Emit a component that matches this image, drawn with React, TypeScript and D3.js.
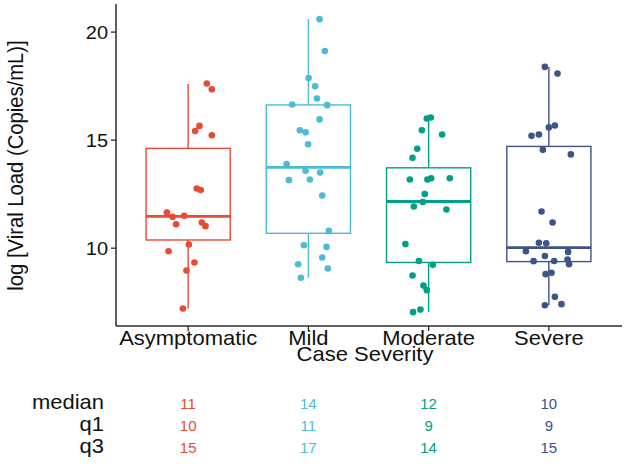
import React from "react";
import * as d3 from "d3";

const categories = ["Asymptomatic", "Mild", "Moderate", "Severe"];
const colors = ["#E64B35", "#4DBBD5", "#00A087", "#3C5488"];

// [jitter (category units), log viral load]
const asymptomaticPoints: [number, number][] = [
  [0.155, 17.62], [0.197, 17.35], [0.094, 15.66], [0.058, 15.42], [0.197, 15.23],
  [0.072, 12.76], [0.105, 12.69], [-0.177, 11.65], [-0.13, 11.45], [-0.033, 11.5],
  [-0.1, 11.11], [0.114, 11.19], [0.144, 11.02], [0.006, 10.17], [-0.163, 9.86],
  [0.052, 9.34], [-0.014, 8.97], [-0.044, 7.21],
];
const mildPoints: [number, number][] = [
  [0.093, 20.6], [0.137, 19.12], [0.002, 17.87], [0.056, 17.49], [0.071, 16.93],
  [-0.134, 16.65], [0.156, 16.62], [0.093, 15.96], [-0.071, 15.46], [-0.023, 15.36],
  [-0.002, 14.81], [-0.181, 13.89], [-0.023, 13.58], [0.098, 13.5], [-0.162, 13.15],
  [0.012, 13.18], [0.115, 12.44], [0.17, 10.8], [-0.037, 10.14], [0.151, 10.06],
  [0.115, 9.57], [-0.085, 9.26], [0.162, 9.06], [-0.062, 8.63],
];
const moderatePoints: [number, number][] = [
  [-0.015, 16.0], [0.018, 16.05], [-0.056, 15.46], [0.112, 15.26], [-0.095, 14.6],
  [-0.134, 14.18], [-0.156, 13.18], [-0.01, 13.18], [0.021, 13.24], [0.176, 13.24],
  [-0.032, 12.51], [-0.048, 12.14], [-0.123, 11.93], [0.148, 11.79], [-0.193, 10.19],
  [-0.081, 9.41], [0.035, 9.23], [-0.134, 8.74], [-0.043, 8.27], [-0.015, 8.06],
  [-0.068, 7.16], [-0.129, 7.04],
];
const severePoints: [number, number][] = [
  [-0.033, 18.39], [0.072, 18.08], [0.05, 15.68], [0.0, 15.59], [-0.144, 15.2],
  [-0.083, 15.26], [-0.05, 14.55], [0.183, 14.34], [-0.061, 11.7], [0.031, 11.19],
  [-0.083, 10.25], [-0.022, 10.23], [-0.191, 9.86], [0.16, 9.83], [-0.033, 9.64],
  [-0.127, 9.4], [0.044, 9.41], [0.155, 9.48], [0.168, 9.26], [-0.027, 8.8],
  [0.022, 8.86], [0.05, 7.75], [-0.033, 7.36], [0.105, 7.41],
];
const groupPoints = [asymptomaticPoints, mildPoints, moderatePoints, severePoints];

// box statistics
const boxQ1 = [10.38, 10.69, 9.34, 9.38];
const boxMedian = [11.47, 13.74, 12.16, 10.03];
const boxQ3 = [14.62, 16.63, 13.72, 14.71];
const whiskerLow = [7.21, 8.64, 7.05, 7.36];
const whiskerHigh = [17.6, 20.6, 16.08, 18.39];

const yTicks = [10, 15, 20];

// summary table
const tableRows = ["median", "q1", "q3"];
const tableMedian = [11, 14, 12, 10];
const tableQ1 = [10, 11, 9, 9];
const tableQ3 = [15, 17, 14, 15];
const tableValues = [tableMedian, tableQ1, tableQ3];

const FONT = "Liberation Sans, Arial, sans-serif";

export default function App() {
  const W = 625, H = 464;
  const left = 116, right = 621, top = 4, bottom = 326;
  const x = d3.scalePoint<string>().domain(categories).range([left, right]).padding(0.6);
  const step = x.step();
  const y = d3.scaleLinear().domain([6.4, 21.3]).range([bottom, top]);
  const boxW = 0.7 * step;
  const axisColor = "#2b2b2b";
  const sy = 0.9;
  const rowBaselines = [409, 431, 453];

  return (
    <svg width={W} height={H} style={{ position: "absolute", left: 0, top: 0, background: "#fff" }}
      fontFamily={FONT}>
      {categories.map((c, i) => {
        const cx = x(c)!;
        const col = colors[i];
        return (
          <g key={c}>
            <line x1={cx} x2={cx} y1={y(boxQ3[i])} y2={y(whiskerHigh[i])} stroke={col} strokeWidth={1.4} />
            <line x1={cx} x2={cx} y1={y(boxQ1[i])} y2={y(whiskerLow[i])} stroke={col} strokeWidth={1.4} />
            <rect x={cx - boxW / 2} y={y(boxQ3[i])} width={boxW} height={y(boxQ1[i]) - y(boxQ3[i])}
              fill="#fff" stroke={col} strokeWidth={1.4} />
            <line x1={cx - boxW / 2} x2={cx + boxW / 2} y1={y(boxMedian[i])} y2={y(boxMedian[i])}
              stroke={col} strokeWidth={2.8} />
            {groupPoints[i].map(([j, v], k) => (
              <circle key={k} cx={cx + j * step} cy={y(v)} r={3.3} fill={col} />
            ))}
          </g>
        );
      })}

      {/* y axis */}
      <line x1={left} x2={left} y1={top} y2={bottom} stroke={axisColor} strokeWidth={1.5} />
      {yTicks.map((t) => (
        <g key={t}>
          <line x1={left - 5} x2={left} y1={y(t)} y2={y(t)} stroke={axisColor} strokeWidth={1.3} />
          <text transform={`translate(${left - 8},${y(t) + 6.5}) scale(1,${sy})`} textAnchor="end"
            fontSize={20} fill="#111">{t}</text>
        </g>
      ))}
      <text transform={`translate(23,165.5) scale(1,0.92) rotate(-90)`} textAnchor="middle"
        fontSize={22} fill="#111">log [Viral Load (Copies/mL)]</text>

      {/* x axis */}
      <line x1={left} x2={right + 1} y1={bottom} y2={bottom} stroke={axisColor} strokeWidth={1.5} />
      {categories.map((c) => (
        <g key={c}>
          <line x1={x(c)!} x2={x(c)!} y1={bottom} y2={bottom + 5} stroke={axisColor} strokeWidth={1.3} />
          <text transform={`translate(${x(c)!},345) scale(1,${sy})`} textAnchor="middle"
            fontSize={22} fill="#111">{c}</text>
        </g>
      ))}
      <text transform={`translate(365,361) scale(1,${sy})`} textAnchor="middle" fontSize={22}
        fill="#111">Case Severity</text>

      {/* table */}
      {tableRows.map((r, ri) => (
        <g key={r}>
          <text transform={`translate(104,${rowBaselines[ri]}) scale(1,${sy})`} textAnchor="end"
            fontSize={22} fill="#111">{r}</text>
          {categories.map((c, ci) => (
            <text key={c} x={x(c)!} y={rowBaselines[ri]} textAnchor="middle" fontSize={15}
              fill={colors[ci]}>{tableValues[ri][ci]}</text>
          ))}
        </g>
      ))}
    </svg>
  );
}
